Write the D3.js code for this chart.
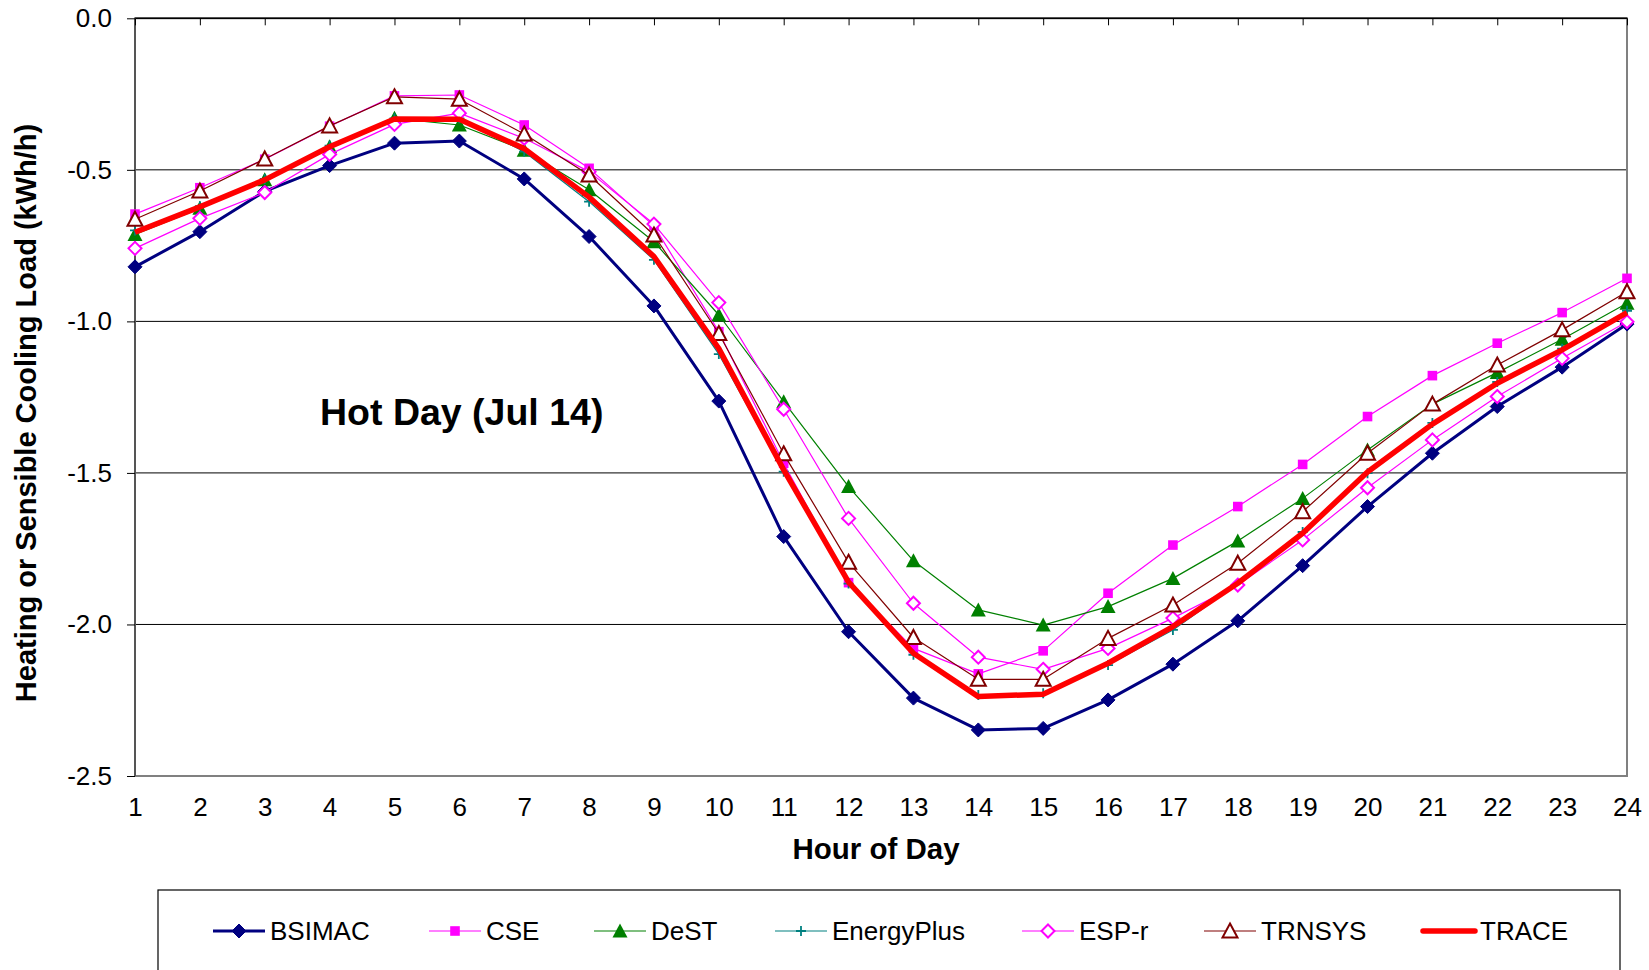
<!DOCTYPE html>
<html>
<head>
<meta charset="utf-8">
<script src="https://cdn.jsdelivr.net/npm/d3@7/dist/d3.min.js"></script>
<style>
  html, body { margin: 0; padding: 0; background: #fff; }
  svg { display: block; font-family: "Liberation Sans", Arial, sans-serif; }
</style>
</head>
<body>
<svg id="chart" width="1649" height="970"></svg>
<script>
// ---- data ----
const hours = [1,2,3,4,5,6,7,8,9,10,11,12,13,14,15,16,17,18,19,20,21,22,23,24];
const yTicks = [0, -0.5, -1.0, -1.5, -2.0, -2.5];
const seriesNames = ["BSIMAC", "CSE", "DeST", "EnergyPlus", "ESP-r", "TRNSYS", "TRACE"];
const BSIMAC = [-0.82,-0.704,-0.571,-0.486,-0.412,-0.405,-0.53,-0.72,-0.949,-1.263,-1.71,-2.024,-2.243,-2.348,-2.343,-2.249,-2.131,-1.988,-1.806,-1.611,-1.435,-1.281,-1.151,-1.009];
const CSE = [-0.646,-0.559,-0.465,-0.356,-0.256,-0.253,-0.352,-0.495,-0.685,-1.034,-1.468,-1.862,-2.079,-2.163,-2.087,-1.897,-1.738,-1.611,-1.472,-1.314,-1.179,-1.072,-0.971,-0.858];
const DeST = [-0.713,-0.627,-0.533,-0.424,-0.33,-0.352,-0.435,-0.566,-0.737,-0.979,-1.265,-1.545,-1.79,-1.952,-2.002,-1.941,-1.848,-1.725,-1.584,-1.424,-1.273,-1.169,-1.059,-0.94];
const EnergyPlus = [-0.70,-0.62,-0.53,-0.42,-0.33,-0.33,-0.44,-0.605,-0.797,-1.108,-1.496,-1.865,-2.10,-2.233,-2.227,-2.134,-2.018,-1.866,-1.695,-1.501,-1.335,-1.20,-1.09,-0.965];
const ESPr = [-0.759,-0.66,-0.575,-0.449,-0.35,-0.313,-0.396,-0.506,-0.679,-0.938,-1.29,-1.65,-1.93,-2.108,-2.148,-2.079,-1.979,-1.87,-1.721,-1.549,-1.391,-1.248,-1.122,-1.001];
const TRNSYS = [-0.663,-0.57,-0.464,-0.355,-0.259,-0.267,-0.382,-0.517,-0.715,-1.04,-1.437,-1.795,-2.043,-2.181,-2.181,-2.046,-1.936,-1.798,-1.628,-1.435,-1.273,-1.144,-1.028,-0.902];
const TRACE = [-0.706,-0.622,-0.533,-0.424,-0.332,-0.333,-0.43,-0.59,-0.786,-1.09,-1.49,-1.86,-2.095,-2.238,-2.23,-2.128,-2.007,-1.864,-1.699,-1.497,-1.339,-1.204,-1.094,-0.971];
const seriesValues = [BSIMAC, CSE, DeST, EnergyPlus, ESPr, TRNSYS, TRACE];

// ---- styles ----
const styles = [
  {color:"#000080", width:3,   marker:"diamondFill"},
  {color:"#FF00FF", width:1.2, marker:"square"},
  {color:"#008000", width:1.2, marker:"triangleFill"},
  {color:"#008080", width:1.2, marker:"plus"},
  {color:"#FF00FF", width:1.2, marker:"diamondOpen"},
  {color:"#800000", width:1.2, marker:"triangleOpen"},
  {color:"#FF0000", width:5.5, marker:null}
];

const svg = d3.select("#chart");
const L = 135, R = 1627, T = 18.3, B = 776;
const x = d3.scalePoint().domain(hours).range([L, R]);
const y = d3.scaleLinear().domain([-2.5, 0]).range([B, T]);

// gridlines
svg.append("g").selectAll("line").data([-0.5,-1.0,-1.5,-2.0]).join("line")
  .attr("x1", L).attr("x2", R).attr("y1", d => y(d)).attr("y2", d => y(d))
  .attr("stroke", "#000").attr("stroke-width", 1);

// plot border
svg.append("rect").attr("x", L).attr("y", T).attr("width", R - L).attr("height", B - T)
  .attr("fill", "none").attr("stroke", "#808080").attr("stroke-width", 2);
// top category axis line
svg.append("line").attr("x1", L).attr("x2", R).attr("y1", T).attr("y2", T)
  .attr("stroke", "#000").attr("stroke-width", 1.5);
// left value axis line
svg.append("line").attr("x1", L).attr("x2", L).attr("y1", T).attr("y2", B)
  .attr("stroke", "#555").attr("stroke-width", 2);

// y axis
const yAxis = svg.append("g").attr("transform", `translate(${L},0)`)
  .call(d3.axisLeft(y).tickValues(yTicks).tickFormat(d => d.toFixed(1)).tickSize(8).tickPadding(15));
yAxis.select(".domain").remove();
yAxis.selectAll("line").attr("stroke", "#000");
yAxis.selectAll("text").attr("font-size", 26).attr("fill", "#000")
  .attr("font-family", "'Liberation Sans', Arial, sans-serif");

// top ticks (category axis crosses at 0)
const topAxis = svg.append("g").attr("transform", `translate(0,${T})`)
  .call(d3.axisBottom(x).tickSize(7).tickFormat(""));
topAxis.select(".domain").remove();
topAxis.selectAll("line").attr("stroke", "#000");

// x tick labels at bottom
const xAxis = svg.append("g").attr("transform", `translate(0,${B})`)
  .call(d3.axisBottom(x).tickSize(0).tickPadding(22));
xAxis.select(".domain").remove();
xAxis.selectAll("text").attr("font-size", 26).attr("fill", "#000")
  .attr("font-family", "'Liberation Sans', Arial, sans-serif");

// marker drawing
function drawMarker(g, type, color) {
  switch (type) {
    case "diamondFill":
      g.append("path").attr("d", "M0,-7L7,0L0,7L-7,0Z").attr("fill", color).attr("stroke", color).attr("stroke-width", 1);
      break;
    case "square":
      g.append("rect").attr("x", -4.8).attr("y", -4.8).attr("width", 9.6).attr("height", 9.6).attr("fill", color);
      break;
    case "triangleFill":
      g.append("path").attr("d", "M0,-7.5L7.5,6.5L-7.5,6.5Z").attr("fill", color);
      break;
    case "plus":
      g.append("path").attr("d", "M-5,0H5M0,-5V5").attr("stroke", color).attr("stroke-width", 1.8).attr("fill", "none");
      break;
    case "diamondOpen":
      g.append("path").attr("d", "M0,-6.5L6.5,0L0,6.5L-6.5,0Z").attr("fill", "#fff").attr("stroke", color).attr("stroke-width", 2);
      break;
    case "triangleOpen":
      g.append("path").attr("d", "M0,-7.5L7.5,6.5L-7.5,6.5Z").attr("fill", "#fff").attr("stroke", color).attr("stroke-width", 2);
      break;
  }
}

// series
const line = d3.line().x((d, i) => x(hours[i])).y(d => y(d));
seriesValues.forEach((vals, si) => {
  const st = styles[si];
  const g = svg.append("g");
  g.append("path").datum(vals).attr("d", line).attr("fill", "none")
    .attr("stroke", st.color).attr("stroke-width", st.width).attr("stroke-linejoin", "round");
  if (st.marker) {
    vals.forEach((v, i) => {
      const mg = g.append("g").attr("transform", `translate(${x(hours[i])},${y(v)})`);
      drawMarker(mg, st.marker, st.color);
    });
  }
});

// annotation
svg.append("text").attr("x", 320).attr("y", 425).attr("font-size", 37.5).attr("font-weight", "bold")
  .attr("fill", "#000").text("Hot Day (Jul 14)");

// axis titles
svg.append("text").attr("transform", "translate(36,413) rotate(-90)").attr("text-anchor", "middle")
  .attr("font-size", 29).attr("font-weight", "bold").attr("fill", "#000")
  .text("Heating or Sensible Cooling Load (kWh/h)");
svg.append("text").attr("x", 876).attr("y", 859).attr("text-anchor", "middle")
  .attr("font-size", 29.5).attr("font-weight", "bold").attr("fill", "#000").text("Hour of Day");

// legend
svg.append("rect").attr("x", 158).attr("y", 890).attr("width", 1462).attr("height", 120)
  .attr("fill", "#fff").attr("stroke", "#000").attr("stroke-width", 1.2);
const legendLineX = [213, 429, 594, 775, 1022, 1204, 1423];
const ly = 931;
seriesNames.forEach((name, si) => {
  const st = styles[si];
  const lx = legendLineX[si];
  const g = svg.append("g");
  g.append("line").attr("x1", lx).attr("x2", lx + 52).attr("y1", ly).attr("y2", ly)
    .attr("stroke", st.color).attr("stroke-width", st.width).attr("stroke-linecap", si === 6 ? "round" : "butt");
  if (st.marker) {
    const mg = g.append("g").attr("transform", `translate(${lx + 26},${ly})`);
    drawMarker(mg, st.marker, st.color);
  }
  g.append("text").attr("x", lx + 57).attr("y", ly + 9).attr("font-size", 26).attr("fill", "#000").text(name);
});
</script>
</body>
</html>
